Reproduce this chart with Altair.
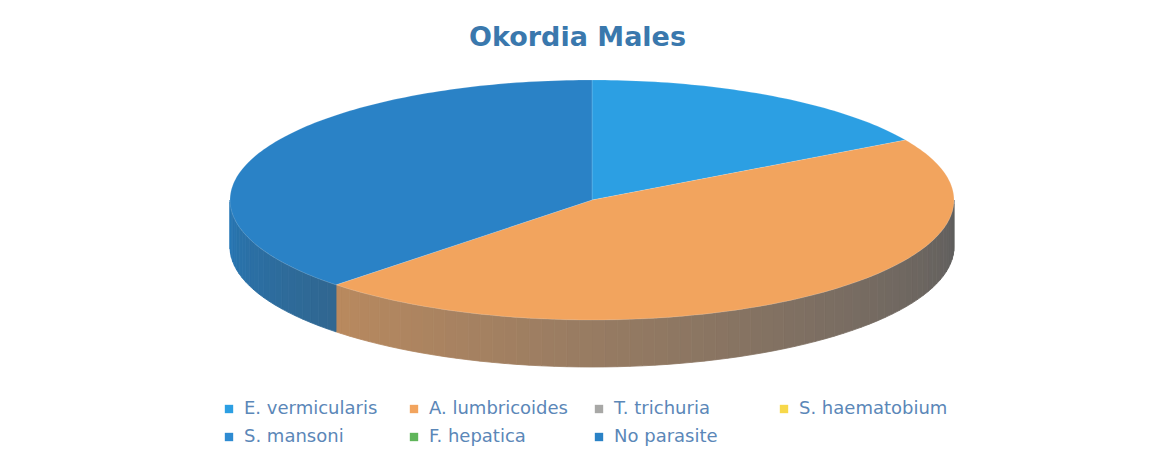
import math
import altair as alt

# ---- data ----
categories = ["E. vermicularis", "A. lumbricoides", "T. trichuria", "S. haematobium",
              "S. mansoni", "F. hepatica", "No parasite"]
counts = [4, 11, 0, 0, 0, 0, 9]
colors = ["#2c9fe3", "#f2a45e", "#a8a8a6", "#f7d84a", "#2e8bd2", "#5fb55a", "#2a82c6"]
title_text = "Okordia Males"

# ---- geometry of the tilted (3-D look) pie, in plot pixels ----
CX, CY, RX, RY, DEPTH = 584, 122, 362, 120, 47
STEP = 1.0


def pt(theta, dy=0.0):
    t = math.radians(theta)
    return [CX + RX * math.sin(t), CY - RY * math.cos(t) + dy]


def hex_to_rgb(h):
    h = h.lstrip("#")
    return [int(h[i:i + 2], 16) for i in (0, 2, 4)]


def shade(h, theta):
    # lighting from the left: bright near 270 deg, dark grey near 90 deg
    u = (theta - 90) / 180.0
    f = 0.52 + 0.40 * u
    mix = max(0.0, 1.0 - 1.0 * u)
    r, g, b = hex_to_rgb(h)
    lum = 0.3 * r + 0.59 * g + 0.11 * b
    rr = [(c * (1 - mix) + lum * mix) * f for c in (r, g, b)]
    return "#%02x%02x%02x" % tuple(max(0, min(255, int(v))) for v in rr)


total = sum(counts)
top_features = []
side_features = []
start = 0.0
for name, val, col in zip(categories, counts, colors):
    if val == 0:
        continue
    end = start + 360.0 * val / total
    ring = [[CX, CY]]
    a = start
    while a < end:
        ring.append(pt(a))
        a += STEP
    ring.append(pt(end))
    ring.append([CX, CY])
    top_features.append({"type": "Feature",
                         "geometry": {"type": "Polygon", "coordinates": [ring]},
                         "properties": {"name": name, "value": val}})
    s0, s1 = max(start, 90.0), min(end, 270.0)
    a = s0
    while a < s1:
        b = min(a + 2.0, s1)
        poly = [pt(a), pt(b), pt(b, DEPTH), pt(a, DEPTH), pt(a)]
        c = shade(col, (a + b) / 2)
        side_features.append({"type": "Feature",
                              "geometry": {"type": "Polygon", "coordinates": [poly]},
                              "properties": {"name": name, "col": c}})
        a = b
    start = end

side = alt.Chart(alt.Data(values=side_features)).mark_geoshape(strokeWidth=0.8).encode(
    fill=alt.Fill("properties.col:N", scale=None),
    stroke=alt.Stroke("properties.col:N", scale=None),
).project(type="identity", scale=1, translate=[0, 0])

top = alt.Chart(alt.Data(values=top_features)).mark_geoshape(strokeWidth=0.6, stroke="#ffffff", strokeOpacity=0.25).encode(
    color=alt.Color("properties.name:N",
                    scale=alt.Scale(domain=categories, range=colors),
                    sort=categories,
                    legend=alt.Legend(title=None, orient="none", legendX=212, legendY=322,
                                      columns=4, direction="horizontal",
                                      symbolType="square", symbolSize=70,
                                      symbolStrokeWidth=0,
                                      labelFont="DejaVu Sans", labelFontSize=18,
                                      labelColor="#5b87b8", labelOffset=6,
                                      columnPadding=12, rowPadding=10,
                                      gridAlign="all", labelLimit=300)),
    tooltip=[alt.Tooltip("properties.name:N", title="Parasite"),
             alt.Tooltip("properties.value:Q", title="Count")],
).project(type="identity", scale=1, translate=[0, 0])

chart = alt.layer(side, top).properties(
    width=1139, height=375,
    title=alt.TitleParams(title_text, anchor="middle", font="DejaVu Sans", fontSize=27,
                          fontWeight="bold", color="#3a78ad", offset=26),
    autosize=alt.AutoSizeParams(type="none"),
    padding={"left": 0, "top": 70, "right": 0, "bottom": 0},
    background="#ffffff",
).configure_view(stroke=None)

chart.save("out.html", embed_options={"renderer": "svg", "actions": False})
